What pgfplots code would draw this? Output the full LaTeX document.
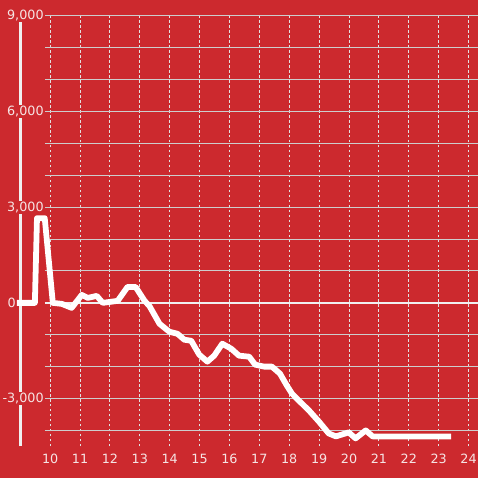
\documentclass[border=0pt]{standalone}
\usepackage{fontspec}
\setmainfont{DejaVu Sans}
\usepackage{pgfplots}
\pgfplotsset{compat=1.18}
\definecolor{bgred}{RGB}{204,41,46}
\definecolor{gridc}{RGB}{205,205,205}
\definecolor{vgridc}{RGB}{225,225,225}
\definecolor{labc}{RGB}{246,228,228}
\begin{document}
\begin{tikzpicture}
\fill[bgred] (0pt,0pt) rectangle (480pt,480pt);
\draw[color={rgb,255:red,240;green,240;blue,240}, line width=3pt] (20.5pt,32pt) -- (20.5pt,464pt);
\begin{axis}[
  at={(45pt,32pt)}, anchor=south west,
  scale only axis, width=435pt, height=432pt,
  xmin=9.823, xmax=24.323, ymin=-4500, ymax=9000,
  clip=false,
  axis line style={draw=none},
  major tick length=0pt, minor tick length=0pt,
  xtick={10,11,12,13,14,15,16,17,18,19,20,21,22,23,24},
  xticklabels={10,11,12,13,14,15,16,17,18,19,20,21,22,23,24},
  ytick={-3000,0,3000,6000,9000},
  yticklabels={{-3,000},{},{3,000},{6,000},{9,000}},
  minor ytick={-4000,-2000,-1000,1000,2000,4000,5000,7000,8000},
  xmajorgrids, ymajorgrids, yminorgrids,
  major x grid style={vgridc, line width=1pt, dash pattern=on 2.5pt off 2.5pt},
  major y grid style={gridc, line width=1pt},
  minor y grid style={gridc, line width=1pt},
  extra y ticks={0}, extra y tick labels={0},
  extra y tick style={major y grid style={color={rgb,255:red,240;green,240;blue,240}, line width=2.5pt},
    yticklabel style={fill=none, xshift=-28pt}},
  tick label style={font=\fontsize{12.8}{15}\selectfont, text=labc},
  yticklabel style={fill=bgred, inner sep=1pt},
  xticklabel style={yshift=-4.5pt},
]
\addplot[white, line width=5.8pt, line join=round] coordinates {
(8.89,0) (9.49,0) (9.56,2656) (9.82,2656) (10.09,0) (10.39,-31) (10.72,-156)
(11.06,250) (11.26,156) (11.56,219) (11.76,0) (12.26,63) (12.59,500) (12.86,500)
(13.16,63) (13.32,-94) (13.66,-656) (13.99,-906) (14.26,-969) (14.49,-1156)
(14.72,-1188) (14.99,-1625) (15.26,-1844) (15.49,-1656) (15.76,-1281) (16.06,-1438)
(16.32,-1656) (16.66,-1688) (16.86,-1938) (17.16,-2000) (17.42,-2000) (17.69,-2219)
(17.92,-2594) (18.09,-2844) (18.32,-3063) (18.66,-3375) (18.99,-3719) (19.32,-4094)
(19.56,-4188) (19.99,-4063) (20.22,-4250) (20.56,-4000) (20.79,-4188) (23.42,-4188)
};
\end{axis}
\end{tikzpicture}
\end{document}
